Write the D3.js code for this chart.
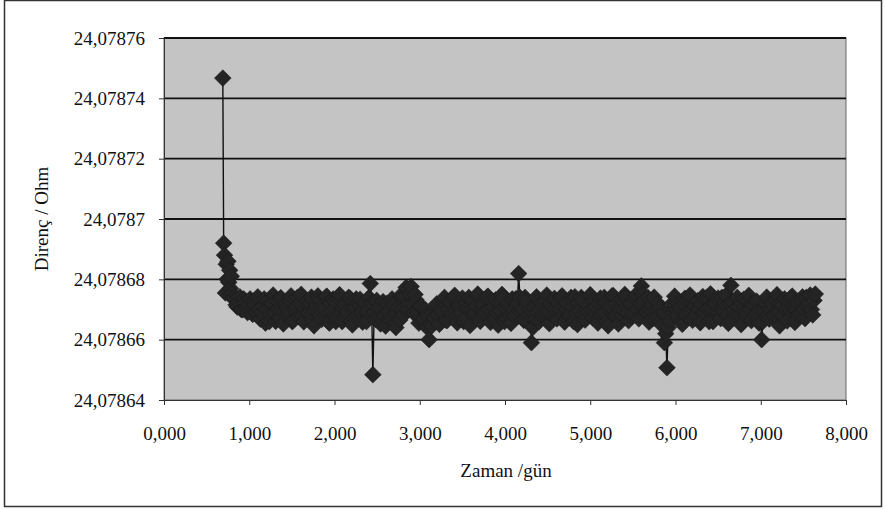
<!DOCTYPE html>
<html>
<head>
<meta charset="utf-8">
<script src="https://cdn.jsdelivr.net/npm/d3@7"></script>
<style>
  body { margin: 0; background: #fff; }
  svg { display: block; }
  text { font-family: "Liberation Serif", "Times New Roman", serif; fill: #111; }
</style>
</head>
<body>
<svg id="chart" width="885" height="510"></svg>
<script>
// time (gün) and resistance (Ohm)
const days = [
  0.69, 0.70, 0.71, 0.72, 0.73, 0.74, 0.75, 0.76, 0.77, 0.78, 0.79,
  0.80, 0.83, 0.86, 0.89, 0.92, 0.95, 0.98, 1.01, 1.04, 1.07,
  1.10, 1.13, 1.16, 1.19, 1.22, 1.25, 1.28, 1.31, 1.34, 1.37,
  1.40, 1.43, 1.46, 1.49, 1.52, 1.55, 1.58, 1.61, 1.64, 1.67,
  1.70, 1.73, 1.76, 1.79, 1.82, 1.85, 1.88, 1.91, 1.94, 1.97,
  2.00, 2.03, 2.06, 2.09, 2.12, 2.15, 2.18, 2.21, 2.24, 2.27,
  2.30, 2.33, 2.36, 2.39, 2.42, 2.45, 2.48, 2.51, 2.54, 2.57,
  2.60, 2.63, 2.66, 2.69, 2.72, 2.75, 2.78, 2.81, 2.84, 2.87,
  2.90, 2.93, 2.96, 2.99, 3.02, 3.05, 3.08, 3.11, 3.14, 3.17,
  3.20, 3.23, 3.26, 3.29, 3.32, 3.35, 3.38, 3.41, 3.44, 3.47,
  3.50, 3.53, 3.56, 3.59, 3.62, 3.65, 3.68, 3.71, 3.74, 3.77,
  3.80, 3.83, 3.86, 3.89, 3.92, 3.95, 3.98, 4.01, 4.04, 4.07,
  4.10, 4.13, 4.16, 4.19, 4.22, 4.25, 4.28, 4.31, 4.34, 4.37,
  4.40, 4.43, 4.46, 4.49, 4.52, 4.55, 4.58, 4.61, 4.64, 4.67,
  4.70, 4.73, 4.76, 4.79, 4.82, 4.85, 4.88, 4.91, 4.94, 4.97,
  5.00, 5.03, 5.06, 5.09, 5.12, 5.15, 5.18, 5.21, 5.24, 5.27,
  5.30, 5.33, 5.36, 5.39, 5.42, 5.45, 5.48, 5.51, 5.54, 5.57,
  5.60, 5.63, 5.66, 5.69, 5.72, 5.75, 5.78, 5.81, 5.84, 5.87,
  5.90, 5.93, 5.96, 5.99, 6.02, 6.05, 6.08, 6.11, 6.14, 6.17,
  6.20, 6.23, 6.26, 6.29, 6.32, 6.35, 6.38, 6.41, 6.44, 6.47,
  6.50, 6.53, 6.56, 6.59, 6.62, 6.65, 6.68, 6.71, 6.74, 6.77,
  6.80, 6.83, 6.86, 6.89, 6.92, 6.95, 6.98, 7.01, 7.04, 7.07,
  7.10, 7.13, 7.16, 7.19, 7.22, 7.25, 7.28, 7.31, 7.34, 7.37,
  7.40, 7.43, 7.46, 7.49, 7.52, 7.55, 7.58, 7.61, 7.64
]

const ohm = [
  24.0787467, 24.0786920, 24.0786880, 24.0786755, 24.0786850, 24.0786800, 24.0786860, 24.0786790, 24.0786830, 24.0786770, 24.0786810,
  24.0786752, 24.0786731, 24.0786708, 24.0786742, 24.0786699, 24.0786722, 24.0786690, 24.0786735, 24.0786684, 24.0786716,
  24.0786742, 24.0786668, 24.0786712, 24.0786655, 24.0786730, 24.0786684, 24.0786748, 24.0786661, 24.0786701, 24.0786739,
  24.0786652, 24.0786718, 24.0786690, 24.0786745, 24.0786664, 24.0786708, 24.0786676, 24.0786750, 24.0786659, 24.0786725,
  24.0786688, 24.0786741, 24.0786646, 24.0786712, 24.0786733, 24.0786667, 24.0786702, 24.0786744, 24.0786655, 24.0786695,
  24.0786728, 24.0786671, 24.0786749, 24.0786660, 24.0786715, 24.0786692, 24.0786738, 24.0786649, 24.0786706, 24.0786681,
  24.0786734, 24.0786658, 24.0786721, 24.0786697, 24.0786786, 24.0786484, 24.0786668, 24.0786703, 24.0786652, 24.0786726,
  24.0786645, 24.0786693, 24.0786662, 24.0786714, 24.0786640, 24.0786707, 24.0786748, 24.0786681, 24.0786773, 24.0786720,
  24.0786776, 24.0786688, 24.0786731, 24.0786655, 24.0786709, 24.0786668, 24.0786642, 24.0786600, 24.0786645, 24.0786672,
  24.0786719, 24.0786651, 24.0786694, 24.0786740, 24.0786663, 24.0786725, 24.0786682, 24.0786747, 24.0786656, 24.0786711,
  24.0786738, 24.0786670, 24.0786702, 24.0786647, 24.0786729, 24.0786689, 24.0786751, 24.0786661, 24.0786716, 24.0786684,
  24.0786744, 24.0786657, 24.0786709, 24.0786732, 24.0786648, 24.0786695, 24.0786740, 24.0786673, 24.0786718, 24.0786654,
  24.0786701, 24.0786736, 24.0786819, 24.0786690, 24.0786664, 24.0786727, 24.0786683, 24.0786590, 24.0786705, 24.0786742,
  24.0786660, 24.0786721, 24.0786689, 24.0786748, 24.0786653, 24.0786713, 24.0786737, 24.0786669, 24.0786700, 24.0786745,
  24.0786658, 24.0786724, 24.0786681, 24.0786707, 24.0786742, 24.0786650, 24.0786696, 24.0786731, 24.0786665, 24.0786714,
  24.0786749, 24.0786672, 24.0786706, 24.0786655, 24.0786738, 24.0786690, 24.0786723, 24.0786646, 24.0786710, 24.0786746,
  24.0786679, 24.0786652, 24.0786733, 24.0786698, 24.0786741, 24.0786663, 24.0786717, 24.0786686, 24.0786750, 24.0786669,
  24.0786778, 24.0786728, 24.0786694, 24.0786658, 24.0786715, 24.0786741, 24.0786672, 24.0786705, 24.0786648, 24.0786590,
  24.0786507, 24.0786662, 24.0786720, 24.0786744, 24.0786679, 24.0786706, 24.0786651, 24.0786737, 24.0786690, 24.0786748,
  24.0786664, 24.0786711, 24.0786729, 24.0786656, 24.0786743, 24.0786686, 24.0786702, 24.0786752, 24.0786660, 24.0786719,
  24.0786738, 24.0786670, 24.0786695, 24.0786746, 24.0786654, 24.0786780, 24.0786723, 24.0786681, 24.0786708, 24.0786650,
  24.0786734, 24.0786690, 24.0786747, 24.0786663, 24.0786712, 24.0786728, 24.0786655, 24.0786600, 24.0786702, 24.0786741,
  24.0786668, 24.0786722, 24.0786685, 24.0786749, 24.0786646, 24.0786713, 24.0786735, 24.0786662, 24.0786699, 24.0786744,
  24.0786657, 24.0786726, 24.0786690, 24.0786742, 24.0786670, 24.0786708, 24.0786748, 24.0786682, 24.0786751
]

// readings taken between the ones above
const daysMid = [
  0.815, 0.845, 0.875, 0.905, 0.935, 0.965, 0.995, 1.025, 1.055, 1.085,
  1.115, 1.145, 1.175, 1.205, 1.235, 1.265, 1.295, 1.325, 1.355, 1.385,
  1.415, 1.445, 1.475, 1.505, 1.535, 1.565, 1.595, 1.625, 1.655, 1.685,
  1.715, 1.745, 1.775, 1.805, 1.835, 1.865, 1.895, 1.925, 1.955, 1.985,
  2.015, 2.045, 2.075, 2.105, 2.135, 2.165, 2.195, 2.225, 2.255, 2.285,
  2.315, 2.345, 2.375, 2.405, 2.435, 2.465, 2.495, 2.525, 2.555, 2.585,
  2.615, 2.645, 2.675, 2.705, 2.735, 2.765, 2.795, 2.825, 2.855, 2.885,
  2.915, 2.945, 2.975, 3.005, 3.035, 3.065, 3.095, 3.125, 3.155, 3.185,
  3.215, 3.245, 3.275, 3.305, 3.335, 3.365, 3.395, 3.425, 3.455, 3.485,
  3.515, 3.545, 3.575, 3.605, 3.635, 3.665, 3.695, 3.725, 3.755, 3.785,
  3.815, 3.845, 3.875, 3.905, 3.935, 3.965, 3.995, 4.025, 4.055, 4.085,
  4.115, 4.145, 4.175, 4.205, 4.235, 4.265, 4.295, 4.325, 4.355, 4.385,
  4.415, 4.445, 4.475, 4.505, 4.535, 4.565, 4.595, 4.625, 4.655, 4.685,
  4.715, 4.745, 4.775, 4.805, 4.835, 4.865, 4.895, 4.925, 4.955, 4.985,
  5.015, 5.045, 5.075, 5.105, 5.135, 5.165, 5.195, 5.225, 5.255, 5.285,
  5.315, 5.345, 5.375, 5.405, 5.435, 5.465, 5.495, 5.525, 5.555, 5.585,
  5.615, 5.645, 5.675, 5.705, 5.735, 5.765, 5.795, 5.825, 5.855, 5.885,
  5.915, 5.945, 5.975, 6.005, 6.035, 6.065, 6.095, 6.125, 6.155, 6.185,
  6.215, 6.245, 6.275, 6.305, 6.335, 6.365, 6.395, 6.425, 6.455, 6.485,
  6.515, 6.545, 6.575, 6.605, 6.635, 6.665, 6.695, 6.725, 6.755, 6.785,
  6.815, 6.845, 6.875, 6.905, 6.935, 6.965, 6.995, 7.025, 7.055, 7.085,
  7.115, 7.145, 7.175, 7.205, 7.235, 7.265, 7.295, 7.325, 7.355, 7.385,
  7.415, 7.445, 7.475, 7.505, 7.535, 7.565, 7.595, 7.625
]

const ohmMid = [
  24.0786740, 24.0786715, 24.0786725, 24.0786700, 24.0786735, 24.0786705, 24.0786715, 24.0786695, 24.0786728, 24.0786690,
  24.0786700, 24.0786690, 24.0786735, 24.0786700, 24.0786660, 24.0786720, 24.0786690, 24.0786730, 24.0786670, 24.0786700,
  24.0786690, 24.0786705, 24.0786730, 24.0786660, 24.0786700, 24.0786740, 24.0786720, 24.0786680, 24.0786700, 24.0786690,
  24.0786720, 24.0786665, 24.0786700, 24.0786745, 24.0786680, 24.0786710, 24.0786740, 24.0786660, 24.0786720, 24.0786735,
  24.0786660, 24.0786740, 24.0786690, 24.0786705, 24.0786680, 24.0786740, 24.0786660, 24.0786700, 24.0786735, 24.0786720,
  24.0786690, 24.0786700, 24.0786660, 24.0786740, 24.0786720, 24.0786690, 24.0786730, 24.0786670, 24.0786700, 24.0786680,
  24.0786720, 24.0786670, 24.0786735, 24.0786655, 24.0786690, 24.0786665, 24.0786700, 24.0786745, 24.0786700, 24.0786750,
  24.0786720, 24.0786750, 24.0786690, 24.0786710, 24.0786660, 24.0786700, 24.0786680, 24.0786650, 24.0786690, 24.0786710,
  24.0786680, 24.0786700, 24.0786730, 24.0786665, 24.0786700, 24.0786690, 24.0786740, 24.0786680, 24.0786720, 24.0786690,
  24.0786660, 24.0786720, 24.0786740, 24.0786700, 24.0786680, 24.0786710, 24.0786670, 24.0786700, 24.0786690, 24.0786740,
  24.0786700, 24.0786730, 24.0786670, 24.0786690, 24.0786720, 24.0786750, 24.0786660, 24.0786700, 24.0786680, 24.0786735,
  24.0786680, 24.0786720, 24.0786740, 24.0786700, 24.0786740, 24.0786660, 24.0786700, 24.0786640, 24.0786670, 24.0786690,
  24.0786700, 24.0786680, 24.0786730, 24.0786690, 24.0786720, 24.0786680, 24.0786700, 24.0786720, 24.0786740, 24.0786680,
  24.0786700, 24.0786680, 24.0786740, 24.0786660, 24.0786690, 24.0786720, 24.0786740, 24.0786680, 24.0786700, 24.0786690,
  24.0786700, 24.0786730, 24.0786665, 24.0786720, 24.0786680, 24.0786740, 24.0786660, 24.0786700, 24.0786745, 24.0786680,
  24.0786720, 24.0786700, 24.0786680, 24.0786750, 24.0786690, 24.0786720, 24.0786680, 24.0786740, 24.0786700, 24.0786720,
  24.0786750, 24.0786690, 24.0786740, 24.0786700, 24.0786670, 24.0786700, 24.0786720, 24.0786660, 24.0786690, 24.0786620,
  24.0786640, 24.0786700, 24.0786690, 24.0786700, 24.0786720, 24.0786660, 24.0786720, 24.0786680, 24.0786740, 24.0786690,
  24.0786700, 24.0786680, 24.0786700, 24.0786720, 24.0786690, 24.0786740, 24.0786660, 24.0786700, 24.0786720, 24.0786690,
  24.0786690, 24.0786740, 24.0786720, 24.0786680, 24.0786720, 24.0786730, 24.0786700, 24.0786740, 24.0786680, 24.0786720,
  24.0786680, 24.0786730, 24.0786700, 24.0786720, 24.0786680, 24.0786690, 24.0786700, 24.0786660, 24.0786720, 24.0786680,
  24.0786700, 24.0786680, 24.0786730, 24.0786690, 24.0786720, 24.0786680, 24.0786700, 24.0786730, 24.0786740, 24.0786700,
  24.0786700, 24.0786680, 24.0786730, 24.0786700, 24.0786740, 24.0786720, 24.0786700, 24.0786730
]

const yTicks = [24.07864, 24.07866, 24.07868, 24.0787, 24.07872, 24.07874, 24.07876]
const yTickLabels = ['24,07864', '24,07866', '24,07868', '24,0787', '24,07872', '24,07874', '24,07876']
const xTicks = [0, 1, 2, 3, 4, 5, 6, 7, 8]
const xTickLabels = ['0,000', '1,000', '2,000', '3,000', '4,000', '5,000', '6,000', '7,000', '8,000']

const data = days.map((d, i) => ({ t: d, r: ohm[i] }))
  .concat(daysMid.map((d, i) => ({ t: d, r: ohmMid[i] })))
  .sort((a, b) => a.t - b.t)

const svg = d3.select('#chart')
const margin = { top: 38, right: 39, bottom: 110, left: 164 }
const W = 885, H = 510

// outer frame
svg.append('rect')
  .attr('x', 4.5).attr('y', 0.5)
  .attr('width', 877).attr('height', 506)
  .attr('fill', 'none').attr('stroke', '#333').attr('stroke-width', 1.5)

const x = d3.scaleLinear().domain([0, 8]).range([margin.left, W - margin.right])
const y = d3.scaleLinear().domain([24.07864, 24.07876]).range([H - margin.bottom, margin.top])

// plot area
svg.append('rect')
  .attr('x', x(0)).attr('y', y(24.07876))
  .attr('width', x(8) - x(0)).attr('height', y(24.07864) - y(24.07876))
  .attr('fill', '#c4c4c4').attr('stroke', '#666').attr('stroke-width', 1)

// gridlines
svg.append('g')
  .selectAll('line')
  .data(yTicks.slice(1))
  .join('line')
    .attr('x1', x(0)).attr('x2', x(8))
    .attr('y1', d => y(d)).attr('y2', d => y(d))
    .attr('stroke', '#111').attr('stroke-width', 1.8)

// axes
const yAxis = svg.append('g')
  .attr('transform', 'translate(' + x(0) + ',0)')
  .call(d3.axisLeft(y).tickValues(yTicks).tickFormat((d, i) => yTickLabels[i]).tickSize(5).tickSizeOuter(0).tickPadding(14))
yAxis.select('.domain').attr('stroke', '#333')
yAxis.selectAll('.tick line').attr('stroke', '#333')
yAxis.selectAll('text').style('font-size', '19px').attr('dy', '0.32em')

const xAxis = svg.append('g')
  .attr('transform', 'translate(0,' + y(24.07864) + ')')
  .call(d3.axisBottom(x).tickValues(xTicks).tickFormat((d, i) => xTickLabels[i]).tickSize(5).tickSizeOuter(0).tickPadding(22))
xAxis.select('.domain').attr('stroke', '#333')
xAxis.selectAll('.tick line').attr('stroke', '#333')
xAxis.selectAll('text').style('font-size', '19px')

// series line
svg.append('path')
  .datum(data)
  .attr('fill', 'none')
  .attr('stroke', '#111')
  .attr('stroke-width', 1.4)
  .attr('d', d3.line().x(d => x(d.t)).y(d => y(d.r)))

// diamond markers
const diamond = d3.symbol(d3.symbolSquare, 140)
svg.append('g')
  .selectAll('path')
  .data(data)
  .join('path')
    .attr('transform', d => 'translate(' + x(d.t) + ',' + y(d.r) + ') rotate(45)')
    .attr('d', diamond)
    .attr('fill', '#242424')
    .attr('stroke', '#1a1a1a')
    .attr('stroke-width', 0.5)

// axis titles
svg.append('text')
  .attr('x', (x(0) + x(8)) / 2 + 1)
  .attr('y', 477)
  .attr('text-anchor', 'middle')
  .style('font-size', '19px')
  .text('Zaman /gün')

svg.append('text')
  .attr('transform', 'translate(48,' + y(24.0787) + ') rotate(-90)')
  .attr('text-anchor', 'middle')
  .style('font-size', '19px')
  .text('Direnç / Ohm')
</script>
</body>
</html>
